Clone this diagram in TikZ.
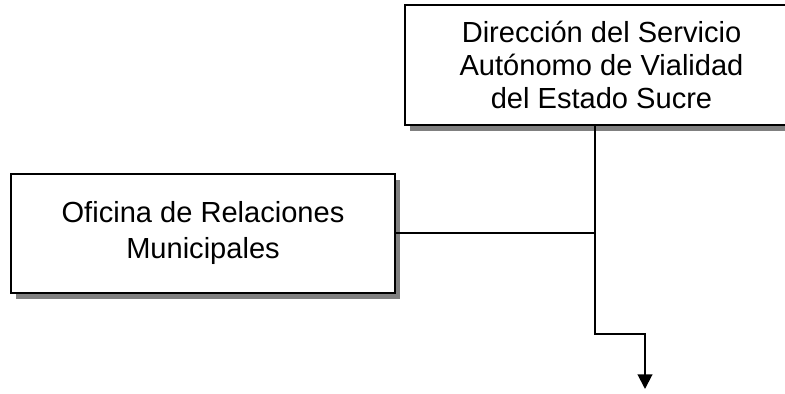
\documentclass[tikz,border=0pt]{standalone}
\usepackage{fontspec}
\setmainfont{Liberation Sans}
\usetikzlibrary{shadows,arrows.meta}
\begin{document}
\begin{tikzpicture}[x=0.75pt,y=-0.75pt,
 unidad/.style={draw,line width=1.9pt,fill=white,align=center,inner sep=0pt,
  drop shadow={shadow xshift=4pt,shadow yshift=-4.5pt,fill=black!50,opacity=1}},
 enlace/.style={line width=1.5pt}]
 \useasboundingbox (0,0) rectangle (785,393);
 \clip (0,0) rectangle (785,393);
 \node[unidad,font=\fontsize{21.8}{25}\selectfont,minimum width=393pt*0.75,minimum height=120pt*0.75] (dir) at (601.5,65) {Dirección del Servicio\\Autónomo de Vialidad\\del Estado Sucre};
 \node[unidad,font=\fontsize{21.8}{27}\selectfont,minimum width=384pt*0.75,minimum height=119pt*0.75] (ofi) at (203,233.3) {Oficina de Relaciones\\Municipales};
 \coordinate (j) at (595,334);
 \coordinate (fin) at (645,389);
 \draw[enlace] (ofi.east) -- (ofi.east -| j);
 \draw[enlace,-{Triangle[width=11pt,length=11pt]}] (dir.south -| j) -- (j) -| (fin);
\end{tikzpicture}
\end{document}
